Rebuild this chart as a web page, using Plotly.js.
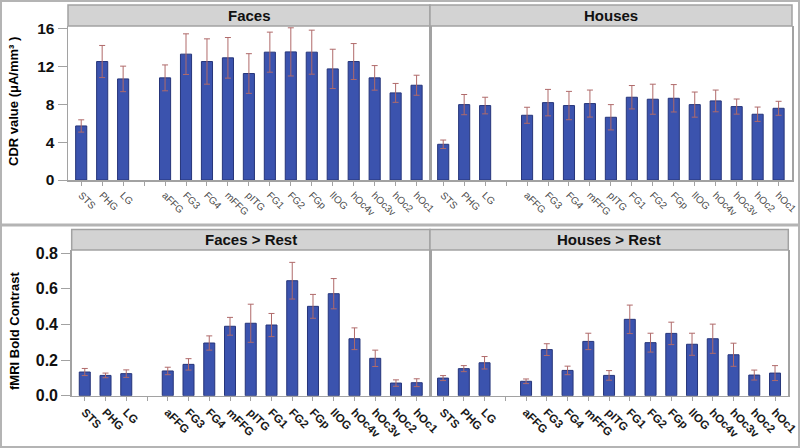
<!DOCTYPE html>
<html>
<head>
<meta charset="utf-8">
<script src="https://cdn.plot.ly/plotly-3.0.1.min.js"></script>
<style>html,body{margin:0;padding:0;background:#fff;}#chart{width:800px;height:448px;}</style>
</head>
<body>
<div id="chart"></div>
<script>
// ---- data ----
const regions = ['STS','PHG','LG','aFFG','FG3','FG4','mFFG','pITG','FG1','FG2','FGp','lIOG','hOc4v','hOc3v','hOc2','hOc1'];
const gapLabel = '\u00a0';
const axisOrder = ['STS','PHG','LG',gapLabel,'aFFG','FG3','FG4','mFFG','pITG','FG1','FG2','FGp','lIOG','hOc4v','hOc3v','hOc2','hOc1'];

const cdrFaces     = [5.72,12.54,10.70,10.81,13.32,12.54,12.93,11.27,13.53,13.56,13.53,11.76,12.54,10.81,9.22,10.03];
const cdrFacesErr  = [0.65,1.70,1.35,1.37,2.15,2.40,2.15,2.10,2.12,2.55,2.33,2.08,1.90,1.30,1.00,1.06];
const cdrHouses    = [3.78,7.98,7.88,6.85,8.19,7.88,8.09,6.64,8.76,8.55,8.65,7.98,8.37,7.77,6.96,7.59];
const cdrHousesErr = [0.45,1.07,0.88,0.85,1.40,1.50,1.43,1.34,1.24,1.59,1.45,1.33,1.15,0.80,0.76,0.74];

const boldFaces     = [0.133,0.114,0.124,0.139,0.176,0.296,0.390,0.407,0.397,0.646,0.502,0.573,0.320,0.210,0.071,0.073];
const boldFacesErr  = [0.020,0.013,0.021,0.021,0.032,0.040,0.050,0.107,0.065,0.103,0.067,0.085,0.061,0.046,0.018,0.022];
const boldHouses    = [0.099,0.152,0.185,0.081,0.259,0.142,0.305,0.114,0.429,0.298,0.350,0.289,0.320,0.230,0.116,0.127];
const boldHousesErr = [0.014,0.017,0.035,0.013,0.033,0.024,0.046,0.027,0.080,0.053,0.063,0.062,0.082,0.065,0.028,0.042];

const panelTitles = ['Faces','Houses','Faces > Rest','Houses > Rest'];
const yTitles = ['CDR value (\u03bcA/mm\u00b3 )','fMRI Bold Contrast'];
const cdrTicks = [0,4,8,12,16];
const boldTicks = [0,0.2,0.4,0.6,0.8];

// ---- styling ----
const W = 800, H = 448;
const px = v => v / W;
const py = v => 1 - v / H;
const barColor = '#3b53ae';
const barLine = '#26357a';
const errColor = '#b06a6a';
const frameColor = '#b4b4b4';
const axLineColor = '#a2a2a2';
const FONT = 'Liberation Sans, Arial, sans-serif';

function barTrace(vals, errs, xa, ya) {
  return {
    type: 'bar', x: regions, y: vals, xaxis: xa, yaxis: ya,
    marker: {color: barColor, line: {color: barLine, width: 1}},
    error_y: {type: 'data', array: errs, visible: true, color: errColor, thickness: 1, width: 3},
    hoverinfo: 'x+y', showlegend: false
  };
}

const data = [
  barTrace(cdrFaces, cdrFacesErr, 'x', 'y'),
  barTrace(cdrHouses, cdrHousesErr, 'x2', 'y2'),
  barTrace(boldFaces, boldFacesErr, 'x3', 'y3'),
  barTrace(boldHouses, boldHousesErr, 'x4', 'y4')
];

// geometry (pixels)
const gTop = {y0: 26, y1: 180, hy0: 5, xL: 68, xM: 430, xR: 792};
const gBot = {y0: 250, y1: 395.7, hy0: 229.5, xL: 71.7, xM: 430, xR: 788.3};

function xAxis(x0, x1, anchor, font) {
  return {
    domain: [px(x0), px(x1)], anchor: anchor, type: 'category',
    categoryorder: 'array', categoryarray: axisOrder,
    range: [-0.63, 16.64], fixedrange: true,
    showline: true, linecolor: axLineColor, linewidth: 1.5,
    ticks: 'outside', ticklen: 4, tickcolor: axLineColor, tickwidth: 1,
    tickangle: 45, tickfont: font,
    showgrid: false, zeroline: false
  };
}
function yAxis(y0, y1, anchor, range, tickvals, showLabels, fmt, fsize) {
  return {
    domain: [py(y1), py(y0)], anchor: anchor, range: range, fixedrange: true,
    showline: true, mirror: true, linecolor: axLineColor, linewidth: 1.5,
    ticks: showLabels ? 'outside' : '', ticklen: 9, tickcolor: axLineColor, tickwidth: 1,
    tickvals: tickvals, tickformat: fmt, showticklabels: showLabels,
    tickfont: {family: FONT, size: fsize, color: '#111', weight: 'bold'},
    showgrid: false, zeroline: false
  };
}

function headerRect(x0, x1, y0, y1) {
  return {type: 'rect', xref: 'paper', yref: 'paper', x0: px(x0), x1: px(x1), y0: py(y1), y1: py(y0), fillcolor: '#d3d3d3', line: {color: axLineColor, width: 1.5}};
}
function headerText(t, x0, x1, y0, y1) {
  return {text: '<b>' + t.replace('>', '&gt;') + '</b>', xref: 'paper', yref: 'paper', x: px((x0 + x1) / 2), y: py((y0 + y1) / 2), showarrow: false, xanchor: 'center', yanchor: 'middle', font: {family: FONT, size: 15, color: '#111'}};
}
function yTitle(t, yc) {
  return {text: '<b>' + t + '</b>', xref: 'paper', yref: 'paper', x: px(14), y: py(yc), textangle: -90, showarrow: false, xanchor: 'center', yanchor: 'middle', font: {family: FONT, size: 13, color: '#000'}};
}

const topTickFont = {family: FONT, size: 10, color: '#4a4a4a'};
const botTickFont = {family: FONT, size: 11.5, color: '#1a1a1a', weight: 'bold'};

const layout = {
  width: W, height: H,
  margin: {l: 0, r: 0, t: 0, b: 0, pad: 0},
  paper_bgcolor: '#fff', plot_bgcolor: '#fff',
  bargap: 0.47,
  showlegend: false,
  xaxis:  xAxis(gTop.xL, gTop.xM, 'y', topTickFont),
  xaxis2: xAxis(gTop.xM, gTop.xR, 'y2', topTickFont),
  xaxis3: xAxis(gBot.xL, gBot.xM, 'y3', botTickFont),
  xaxis4: xAxis(gBot.xM, gBot.xR, 'y4', botTickFont),
  yaxis:  yAxis(gTop.y0, gTop.y1, 'x', [0, 16.3], cdrTicks, true, 'd', 15.5),
  yaxis2: yAxis(gTop.y0, gTop.y1, 'x2', [0, 16.3], cdrTicks, false, 'd', 15.5),
  yaxis3: yAxis(gBot.y0, gBot.y1, 'x3', [0, 0.8185], boldTicks, true, '.1f', 16),
  yaxis4: yAxis(gBot.y0, gBot.y1, 'x4', [0, 0.8185], boldTicks, false, '.1f', 16),
  shapes: [
    {type: 'rect', xref: 'paper', yref: 'paper', x0: px(1), x1: px(799), y0: py(224.5), y1: py(1), line: {color: frameColor, width: 2}},
    {type: 'rect', xref: 'paper', yref: 'paper', x0: px(1), x1: px(799), y0: py(447), y1: py(225.5), line: {color: frameColor, width: 2}},
    headerRect(gTop.xL, gTop.xM, gTop.hy0, gTop.y0),
    headerRect(gTop.xM, gTop.xR, gTop.hy0, gTop.y0),
    headerRect(gBot.xL, gBot.xM, gBot.hy0, gBot.y0),
    headerRect(gBot.xM, gBot.xR, gBot.hy0, gBot.y0)
  ],
  annotations: [
    headerText(panelTitles[0], gTop.xL, gTop.xM, gTop.hy0, gTop.y0),
    headerText(panelTitles[1], gTop.xM, gTop.xR, gTop.hy0, gTop.y0),
    headerText(panelTitles[2], gBot.xL, gBot.xM, gBot.hy0, gBot.y0),
    headerText(panelTitles[3], gBot.xM, gBot.xR, gBot.hy0, gBot.y0),
    yTitle(yTitles[0], 102),
    yTitle(yTitles[1], 331)
  ]
};

Plotly.newPlot('chart', data, layout, {staticPlot: true, displayModeBar: false});
</script>
</body>
</html>
